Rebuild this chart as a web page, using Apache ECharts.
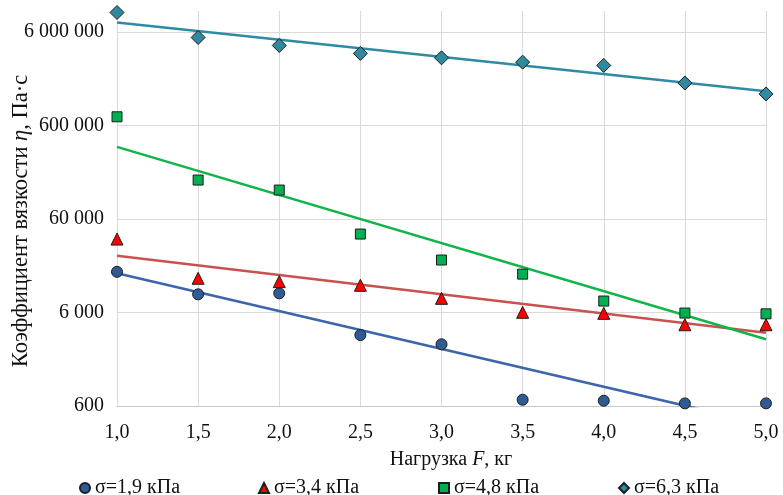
<!DOCTYPE html>
<html>
<head>
<meta charset="utf-8">
<script src="https://cdn.jsdelivr.net/npm/echarts@6/dist/echarts.min.js"></script>
<style>
html,body{margin:0;padding:0;background:#fff;}
#chart{width:783px;height:495px;}
</style>
</head>
<body>
<div id="chart"></div>
<script>
// ---- data ----
const xValues = [1.0, 1.5, 2.0, 2.5, 3.0, 3.5, 4.0, 4.5, 5.0];
const xTickLabels = ['1,0', '1,5', '2,0', '2,5', '3,0', '3,5', '4,0', '4,5', '5,0'];
const seriesNames = ['σ=1,9 кПа', 'σ=3,4 кПа', 'σ=4,8 кПа', 'σ=6,3 кПа'];
const sigma19 = [16300, 9370, 9600, 3440, 2740, 700, 683, 640, 640];
const sigma34 = [36500, 13900, 12800, 11700, 8490, 6020, 5870, 4430, 4430];
const sigma48 = [740000, 156000, 122000, 41300, 21800, 15400, 7940, 5910, 5800];
const sigma63 = [9640000, 5210000, 4280000, 3520000, 3160000, 2840000, 2620000, 1700000, 1300000];
// exponential trend lines (values at x = 1,0 and x = 5,0)
const trendX = [1.0, 5.0];
const trend19 = [15700, 380];
const trend34 = [24200, 3640];
const trend48 = [353000, 3100];
const trend63 = [7540000, 1390000];
const yTickValues = [600, 6000, 60000, 600000, 6000000];
const yTickLabels = ['600', '6 000', '60 000', '600 000', '6 000 000'];
const yAxisMin = 600;
const yAxisMax = 10000000;

// ---- helpers: log scale relative to axis minimum ----
const t = v => Math.log10(v / yAxisMin);
const pts = (xs, vs) => xs.map((x, i) => [x, t(vs[i])]);

const FONT = 'Liberation Serif';
const TXT = '#111';
const markerBorder = '#1e1e1e';

const styles = [
  {symbol: 'circle', size: 11, fill: '#2F5A94', line: '#3D66A8'},
  {symbol: 'triangle', size: 12, fill: '#FF0000', line: '#C85250'},
  {symbol: 'rect', size: 10, fill: '#00B050', line: '#10B54A'},
  {symbol: 'diamond', size: 14, fill: '#2F8AA0', line: '#2E8BA3'}
];
const allVals = [sigma19, sigma34, sigma48, sigma63];
const allTrends = [trend19, trend34, trend48, trend63];

const series = [];
allTrends.forEach((tr, k) => {
  series.push({
    name: 'trend' + k,
    type: 'line',
    data: pts(trendX, tr),
    showSymbol: false,
    symbol: 'none',
    clip: true,
    lineStyle: {color: styles[k].line, width: 2.6},
    z: 2,
    silent: true
  });
});
allVals.forEach((vals, k) => {
  series.push({
    name: seriesNames[k],
    type: 'scatter',
    data: pts(xValues, vals),
    symbol: styles[k].symbol,
    symbolSize: styles[k].size,
    itemStyle: {color: styles[k].fill, borderColor: markerBorder, borderWidth: 1, opacity: 1},
    z: 5
  });
});

const legendLefts = [79, 258, 438, 618];
const legends = seriesNames.map((n, k) => ({
  data: [n],
  left: legendLefts[k],
  top: 478,
  itemWidth: 10,
  itemHeight: 10,
  itemGap: 0,
  padding: 0,
  selectedMode: false,
  textStyle: {fontFamily: FONT, fontSize: 20, color: TXT}
}));

const chart = echarts.init(document.getElementById('chart'), null, {renderer: 'canvas'});
chart.setOption({
  animation: false,
  backgroundColor: '#fff',
  textStyle: {fontFamily: FONT},
  grid: {left: 117, right: 17, top: 11, bottom: 89, containLabel: false},
  xAxis: {
    type: 'value',
    min: 1.0,
    max: 5.0,
    interval: 0.5,
    axisLine: {show: true, lineStyle: {color: '#C8C8C8', width: 1}},
    axisTick: {show: false},
    splitLine: {show: true, lineStyle: {color: '#DADADA', width: 1}},
    axisLabel: {
      fontFamily: FONT, fontSize: 20, color: TXT, margin: 17,
      formatter: v => xTickLabels[Math.round((v - xValues[0]) / 0.5)] || ''
    }
  },
  yAxis: {
    type: 'value',
    min: 0,
    max: t(yAxisMax),
    axisLine: {show: false},
    axisTick: {show: false, customValues: yTickValues.map(t)},
    splitLine: {show: true, lineStyle: {color: '#DADADA', width: 1}},
    axisLabel: {
      customValues: yTickValues.map(t),
      fontFamily: FONT, fontSize: 20, color: TXT, margin: 13,
      formatter: v => {
        const i = yTickValues.findIndex(tv => Math.abs(t(tv) - v) < 1e-6);
        return i >= 0 ? yTickLabels[i] : '';
      }
    }
  },
  legend: legends,
  graphic: [
    {
      type: 'text',
      x: 451, y: 460,
      style: {
        text: '{a|Нагрузка }{i|F}{a|, кг}',
        align: 'center', verticalAlign: 'middle',
        fill: TXT,
        rich: {
          a: {fontFamily: FONT, fontSize: 20, fill: TXT},
          i: {fontFamily: FONT, fontSize: 20, fontStyle: 'italic', fill: TXT}
        }
      }
    },
    {
      type: 'text',
      x: 21, y: 221,
      rotation: Math.PI / 2,
      style: {
        text: '{a|Коэффициент вязкости }{i|η}{a|, Па·с}',
        align: 'center', verticalAlign: 'middle',
        fill: TXT,
        rich: {
          a: {fontFamily: FONT, fontSize: 22.5, fill: TXT},
          i: {fontFamily: FONT, fontSize: 22.5, fontStyle: 'italic', fill: TXT}
        }
      }
    }
  ],
  series: series
});
</script>
</body>
</html>
